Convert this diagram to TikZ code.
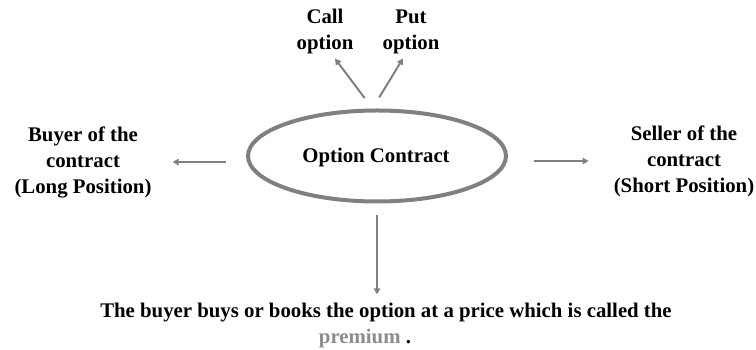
\documentclass[tikz,border=0pt]{standalone}
\usepackage{fontspec}
\setmainfont{Liberation Serif}
\usetikzlibrary{arrows.meta,shapes.geometric}
\definecolor{linegray}{RGB}{128,128,128}
\definecolor{premgray}{RGB}{140,140,140}
\tikzset{
  lbl/.style={align=center, inner sep=0pt, font=\fontsize{20.8}{26}\selectfont\bfseries},
  arr/.style={draw=linegray, line width=2pt, -{Triangle[length=6pt,width=6.5pt]}}
}
\begin{document}
\begin{tikzpicture}[x=1pt,y=1pt]
\useasboundingbox (0,0) rectangle (756,350);
\node[ellipse, draw=linegray, line width=4pt, minimum width=258pt, minimum height=91pt, inner sep=0pt] (opt) at (377,194) {};
\node[lbl] (optlbl) at (376,192) {Option Contract};
\node[lbl] (call) at (325,318) {Call\\option};
\node[lbl] (put) at (411,318) {Put\\option};
\node[lbl] (buyer) at (83,188) {Buyer of the\\contract\\(Long Position)};
\node[lbl] (seller) at (684,189) {Seller of the\\contract\\(Short Position)};
\node[lbl] (price) at (386,37) {The buyer buys or books the option at a price which is called the};
\node[lbl, text=premgray] (prem) at (365,11) {premium\ \textcolor{black}{.}};

\coordinate (fork) at ([xshift=-4.5pt]opt.north);
\draw[arr, shorten <=13pt, shorten >=5pt] (fork) -- ([xshift=7pt]call.south);
\draw[arr, shorten <=13pt, shorten >=5pt] (fork) -- ([xshift=-5.5pt]put.south);
\draw[arr, shorten <=20pt, shorten >=21pt] (opt.west |- buyer) -- (buyer);
\draw[arr, shorten <=26pt, shorten >=25pt] (opt.east |- seller) -- (seller.west);
\draw[arr, shorten <=11.5pt, shorten >=9pt] (opt.south) -- (opt.south |- price.north);
\end{tikzpicture}
\end{document}
